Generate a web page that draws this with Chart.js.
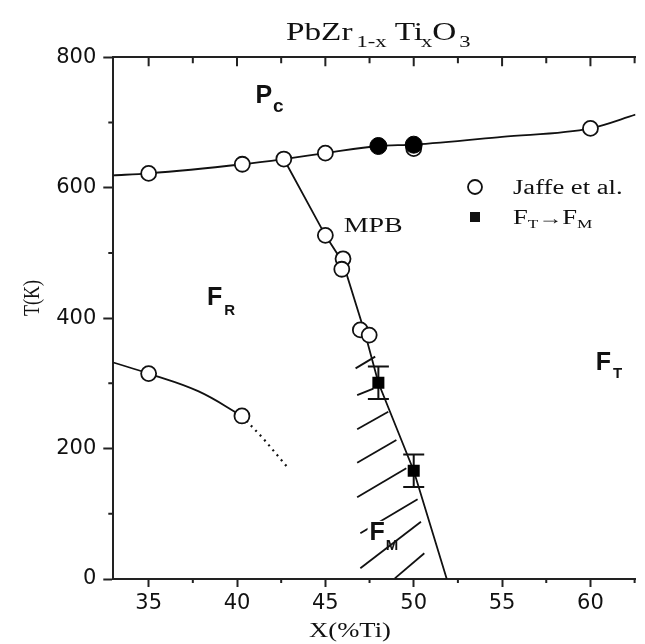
<!DOCTYPE html>
<html>
<head>
<meta charset="utf-8">
<script src="https://cdn.jsdelivr.net/npm/chart.js@4.4.0/dist/chart.umd.min.js"></script>
<style>
  html, body { margin: 0; padding: 0; background: #fff; }
  #wrap { width: 645px; height: 644px; }
</style>
</head>
<body>
<div id="wrap"><canvas id="phase" width="645" height="644"></canvas></div>
<script>
//------------------------ DATA ----------------------------

// axis ticks
const xTicks = [35, 40, 45, 50, 55, 60];
const xMinorTicks = [37.5, 42.5, 47.5, 52.5, 57.5, 62.5];
const yTicks = [0, 200, 400, 600, 800];
const yMinorTicks = [100, 300, 500, 700];

// Jaffe et al. transition temperatures (open circles)
const jaffeX = [35, 40.3, 42.65, 45, 50, 60, 45, 46, 45.93, 46.98, 47.48, 35, 40.28];
const jaffeT = [622, 636, 644, 653, 660, 691, 527, 491, 475, 382, 374, 315, 250];

// cubic -> tetragonal points (filled circles)
const cubicX = [48, 50];
const cubicT = [664, 666];

// FT -> FM transition with error bars (filled squares)
const monoX = [48, 50];
const monoT = [301, 166];
const monoErr = [25, 25];

// phase boundaries
const pcLineX = [33, 35, 40.3, 42.65, 45, 48, 50, 55, 60, 62.55];
const pcLineT = [619, 622, 636, 644, 653, 664, 666, 678, 691, 712];
const mpbX = [42.65, 45, 46, 47.25, 48, 50, 51.87];
const mpbT = [644, 527, 485, 376, 301, 166, 0];
const rLineX = [33, 35, 37.8, 40.28];
const rLineT = [332, 315, 288, 250];
const rDotX = [40.28, 41.5, 42.8];
const rDotT = [250, 215, 173];

// hatching of the monoclinic region (segment start / end)
const hatchX0 = [46.71, 46.8, 46.8, 46.8, 46.8, 46.98, 46.98, 48.93];
const hatchT0 = [323, 282, 229.6, 178.4, 125.3, 70.1, 16.4, 1];
const hatchX1 = [47.82, 47.72, 48.56, 49.02, 49.58, 50.22, 50.41, 50.6];
const hatchT1 = [341, 292, 256.6, 213.2, 169.8, 122.2, 87.9, 39.4];

//------------------------ HELPERS ----------------------------

const INK = "#111";
const SERIF = '"Liberation Serif", "Times New Roman", serif';
const SANS = '"Liberation Sans", Arial, sans-serif';
const STRETCH = 1.33;

function pts(xs, ts) {
  return xs.map((x, i) => ({ x: x, y: ts[i] }));
}

function lineSet(xs, ts, extra) {
  return Object.assign({
    data: pts(xs, ts),
    showLine: true,
    borderColor: INK,
    borderWidth: 1.8,
    pointRadius: 0,
    fill: false,
    order: 10,
  }, extra || {});
}

// draws a row of text pieces one after another, optionally widened
function drawRuns(ctx, runs, x, y, stretch) {
  runs.forEach(r => {
    ctx.font = r.font;
    const w = ctx.measureText(r.text).width * stretch;
    if (r.clear) {
      ctx.fillStyle = "#fff";
      ctx.fillRect(x - 2, y + (r.dy || 0) - r.clear, w + 4, r.clear + 2);
    }
    ctx.fillStyle = INK;
    ctx.save();
    ctx.translate(x, y + (r.dy || 0));
    ctx.scale(stretch, 1);
    ctx.fillText(r.text, 0, 0);
    ctx.restore();
    x += w + (r.gap || 0);
  });
  return x;
}

const serif = s => s + "px " + SERIF;
const bold = s => "bold " + s + "px " + SANS;

//------------------------ DECORATIONS ----------------------------

const phaseDecor = {
  id: "phaseDecor",
  beforeDatasetsDraw(chart) {
    const { ctx, scales: { x, y } } = chart;
    // error bars
    ctx.save();
    ctx.strokeStyle = INK;
    ctx.lineWidth = 2;
    monoX.forEach((v, i) => {
      const px = x.getPixelForValue(v);
      const top = y.getPixelForValue(monoT[i] + monoErr[i]);
      const bot = y.getPixelForValue(monoT[i] - monoErr[i]);
      ctx.beginPath();
      ctx.moveTo(px, top); ctx.lineTo(px, bot);
      ctx.moveTo(px - 10.5, top); ctx.lineTo(px + 10.5, top);
      ctx.moveTo(px - 10.5, bot); ctx.lineTo(px + 10.5, bot);
      ctx.stroke();
    });
    ctx.restore();
  },
  afterDraw(chart) {
    const { ctx, chartArea: area, scales: { x, y } } = chart;
    ctx.save();

    // minor ticks and inward ticks on the top axis
    ctx.strokeStyle = "#222";
    ctx.lineWidth = 2;
    ctx.beginPath();
    xMinorTicks.forEach(v => {
      const px = x.getPixelForValue(v);
      ctx.moveTo(px, area.bottom); ctx.lineTo(px, area.bottom + 4);
      ctx.moveTo(px, area.top); ctx.lineTo(px, area.top + 6);
    });
    xTicks.forEach(v => {
      const px = x.getPixelForValue(v);
      ctx.moveTo(px, area.top); ctx.lineTo(px, area.top + 9);
    });
    yMinorTicks.forEach(v => {
      const py = y.getPixelForValue(v);
      ctx.moveTo(area.left, py); ctx.lineTo(area.left - 5, py);
    });
    ctx.stroke();

    ctx.textBaseline = "alphabetic";
    ctx.textAlign = "left";

    // title
    drawRuns(ctx, [
      { text: "PbZr", font: serif(25), gap: 4 },
      { text: "1-x", font: serif(17), dy: 7, gap: 8 },
      { text: "Ti", font: serif(25), gap: -2 },
      { text: "x", font: serif(17), dy: 7, gap: 0 },
      { text: "O", font: serif(25), gap: 3 },
      { text: "3", font: serif(17), dy: 7 },
    ], 286, 40, STRETCH);

    // axis titles
    ctx.font = serif(20);
    const xt = "X(%Ti)";
    const xw = ctx.measureText(xt).width * STRETCH;
    drawRuns(ctx, [{ text: xt, font: serif(20) }], 350 - xw / 2, 637, STRETCH);

    ctx.save();
    ctx.translate(39, 298);
    ctx.rotate(-Math.PI / 2);
    ctx.scale(1, STRETCH);
    ctx.font = serif(18);
    ctx.textAlign = "center";
    ctx.fillStyle = INK;
    ctx.fillText("T(K)", 0, 0);
    ctx.restore();

    // phase labels, placed in data coordinates
    const at = (vx, vt) => [x.getPixelForValue(vx), y.getPixelForValue(vt)];
    let p = at(41.04, 730);
    drawRuns(ctx, [
      { text: "P", font: bold(25), gap: 1 },
      { text: "c", font: bold(19), dy: 9 },
    ], p[0], p[1], 1);
    p = at(38.3, 420);
    drawRuns(ctx, [
      { text: "F", font: bold(25), gap: 2 },
      { text: "R", font: bold(15), dy: 10 },
    ], p[0], p[1], 1);
    p = at(60.3, 320);
    drawRuns(ctx, [
      { text: "F", font: bold(25), gap: 2 },
      { text: "T", font: bold(15), dy: 8 },
    ], p[0], p[1], 1);
    p = at(47.5, 60);
    drawRuns(ctx, [
      { text: "F", font: bold(25), gap: 1, clear: 19 },
      { text: "M", font: bold(15), dy: 10 },
    ], p[0], p[1], 1);
    p = at(46.04, 532);
    drawRuns(ctx, [{ text: "MPB", font: serif(21) }], p[0], p[1], STRETCH);

    // legend
    ctx.fillStyle = "#fff";
    ctx.strokeStyle = INK;
    ctx.lineWidth = 1.8;
    ctx.beginPath();
    ctx.arc(475, 187, 7, 0, Math.PI * 2);
    ctx.fill();
    ctx.stroke();
    ctx.fillStyle = INK;
    ctx.fillRect(470, 212, 10, 10);
    drawRuns(ctx, [{ text: "Jaffe et al.", font: serif(20) }], 513, 194, STRETCH);
    drawRuns(ctx, [
      { text: "F", font: serif(20), gap: 0 },
      { text: "T", font: serif(13), dy: 4, gap: 0 },
      { text: "\u2192", font: serif(18), gap: 0 },
      { text: "F", font: serif(20), gap: 0 },
      { text: "M", font: serif(13), dy: 4 },
    ], 513, 224, STRETCH);

    ctx.restore();
  },
};

//------------------------ CHART ----------------------------

const hatchSets = hatchX0.map((x0, i) =>
  lineSet([x0, hatchX1[i]], [hatchT0[i], hatchT1[i]], { borderWidth: 1.8 })
);

new Chart(document.getElementById("phase"), {
  type: "scatter",
  data: {
    datasets: [
      {
        data: pts(cubicX, cubicT),
        pointStyle: "circle",
        pointRadius: 8.5,
        pointBackgroundColor: "#000",
        pointBorderColor: "#000",
        pointBorderWidth: 1,
        order: 1,
      },
      {
        data: pts(monoX, monoT),
        pointStyle: "rect",
        pointRadius: 8.5,
        pointBackgroundColor: "#000",
        pointBorderWidth: 0,
        order: 2,
      },
      {
        data: pts(jaffeX, jaffeT),
        pointStyle: "circle",
        pointRadius: 7.5,
        pointBackgroundColor: "#fff",
        pointBorderColor: INK,
        pointBorderWidth: 1.8,
        order: 3,
      },
      lineSet(pcLineX, pcLineT, { cubicInterpolationMode: "monotone" }),
      lineSet(mpbX, mpbT),
      lineSet(rLineX, rLineT, { tension: 0.4 }),
      lineSet(rDotX, rDotT, { borderDash: [2, 4.5], borderWidth: 2.2 }),
      ...hatchSets,
    ],
  },
  options: {
    responsive: false,
    animation: false,
    events: [],
    layout: { padding: 0 },
    plugins: {
      legend: { display: false },
      tooltip: { enabled: false },
    },
    scales: {
      x: {
        type: "linear",
        position: "bottom",
        min: 33,
        max: 62.55,
        afterBuildTicks: s => { s.ticks = xTicks.map(v => ({ value: v })); },
        afterFit: s => { s.height = 65; },
        grid: { drawOnChartArea: false, tickLength: 8, tickWidth: 2, tickColor: "#222" },
        border: { color: "#222", width: 2 },
        ticks: {
          font: { family: '"DejaVu Sans"', size: 21 },
          color: INK,
          padding: 4,
          maxRotation: 0,
        },
      },
      xTop: {
        type: "linear",
        position: "top",
        min: 33,
        max: 62.55,
        afterFit: s => { s.height = 57.3; },
        grid: { display: false },
        border: { color: "#222", width: 2 },
        ticks: { display: false },
      },
      y: {
        type: "linear",
        position: "left",
        min: 0,
        max: 800,
        afterBuildTicks: s => { s.ticks = yTicks.map(v => ({ value: v })); },
        afterFit: s => { s.width = 113.3; },
        grid: { drawOnChartArea: false, tickLength: 10, tickWidth: 2, tickColor: "#222" },
        border: { color: "#222", width: 2 },
        ticks: {
          font: { family: '"DejaVu Sans"', size: 21 },
          color: INK,
          padding: 7,
        },
      },
    },
  },
  plugins: [phaseDecor],
});
</script>
</body>
</html>
